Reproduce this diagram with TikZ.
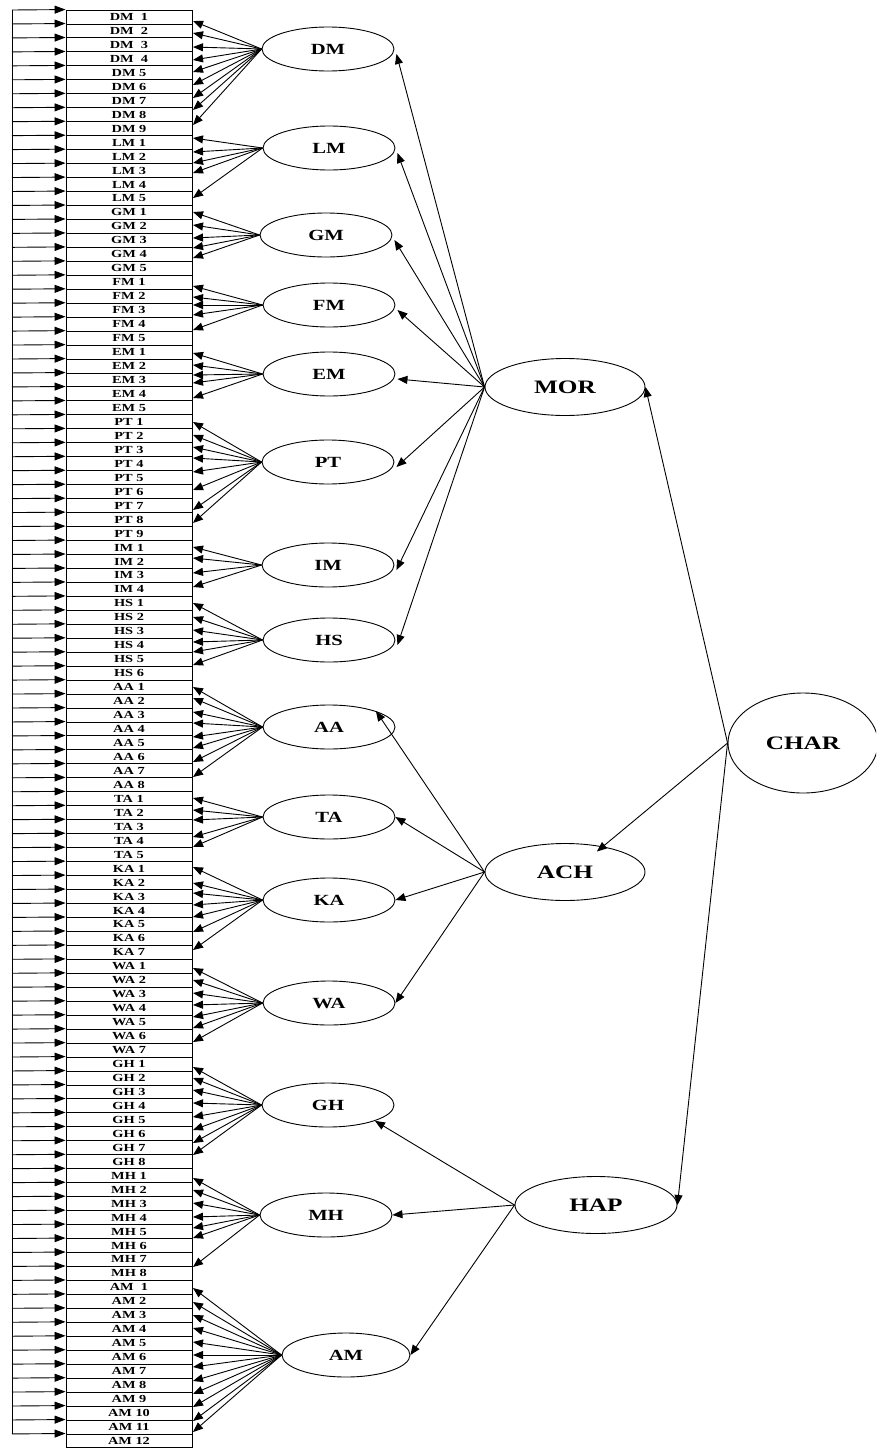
\documentclass[tikz,border=0pt]{standalone}
\usepackage{fontspec}
\setmainfont{Liberation Serif}
\newfontfamily\wideserif[FakeStretch=1.33]{Liberation Serif}
\usetikzlibrary{arrows.meta,shapes.geometric,calc}
\tikzset{
  rowbox/.style={draw, line width=0.9pt, minimum width=126pt, minimum height=13.96pt, inner sep=0pt, font=\wideserif\bfseries\fontsize{10.8}{10}\selectfont},
  latsub/.style={draw, ellipse, line width=0.9pt, minimum width=132pt, minimum height=44pt, inner sep=0pt, font=\wideserif\bfseries\fontsize{15.5}{16}\selectfont},
  latmain/.style={draw, ellipse, line width=0.9pt, minimum width=160pt, minimum height=57pt, inner sep=0pt, font=\wideserif\bfseries\fontsize{19}{20}\selectfont},
  arr/.style={line width=0.9pt, -{Triangle[length=10pt,width=8pt]}},
  arrL/.style={line width=0.9pt, -{Triangle[length=11pt,width=8pt]}},
}
\begin{document}
\begin{tikzpicture}[x=1pt,y=-1pt]
\useasboundingbox (0,0) rectangle (876,1448);
\clip (0,0) rectangle (876,1448);
\fill[white] (0,0) rectangle (876,1448);
% indicator rows
\foreach \lab [count=\i from 0] in {DM~~1,DM~~2,DM~~3,DM~~4,DM 5,DM 6,DM 7,DM 8,DM 9,
  LM 1,LM 2,LM 3,LM 4,LM 5,
  GM 1,GM 2,GM 3,GM 4,GM 5,
  FM 1,FM 2,FM 3,FM 4,FM 5,
  EM 1,EM 2,EM 3,EM 4,EM 5,
  PT 1,PT 2,PT 3,PT 4,PT 5,PT 6,PT 7,PT 8,PT 9,
  IM 1,IM 2,IM 3,IM 4,
  HS 1,HS 2,HS 3,HS 4,HS 5,HS 6,
  AA 1,AA 2,AA 3,AA 4,AA 5,AA 6,AA 7,AA 8,
  TA 1,TA 2,TA 3,TA 4,TA 5,
  KA 1,KA 2,KA 3,KA 4,KA 5,KA 6,KA 7,
  WA 1,WA 2,WA 3,WA 4,WA 5,WA 6,WA 7,
  GH 1,GH 2,GH 3,GH 4,GH 5,GH 6,GH 7,GH 8,
  MH 1,MH 2,MH 3,MH 4,MH 5,MH 6,MH 7,MH 8,
  AM~~1,AM 2,AM 3,AM 4,AM 5,AM 6,AM 7,AM 8,AM 9,AM 10,AM 11,AM 12} {
  \node[rowbox] (r\i) at (129,{17+13.96*\i}) {\lab};
  \coordinate (e\i) at (12,{10+13.96*\i});
  \draw[arrL] (e\i) -- (r\i.north west);
}
\draw[line width=0.9pt] (e0) -- (e102);
% first-order latents
\node[latsub] (DM) at (328,49) {DM};
\node[latsub] (LM) at (329,148) {LM};
\node[latsub] (GM) at (326,235) {GM};
\node[latsub] (FM) at (329,305) {FM};
\node[latsub] (EM) at (329,374) {EM};
\node[latsub] (PT) at (328,462) {PT};
\node[latsub] (IM) at (328,565) {IM};
\node[latsub] (HS) at (329,640) {HS};
\node[latsub] (AA) at (329,727) {AA};
\node[latsub] (TA) at (329,817) {TA};
\node[latsub] (KA) at (329,900) {KA};
\node[latsub] (WA) at (329,1003) {WA};
\node[latsub] (GH) at (328,1105) {GH};
\node[latsub] (MH) at (326,1215) {MH};
\node[latsub, minimum width=128pt] (AM) at (346,1355) {AM};
% second-order latents
\node[latmain] (MOR) at (565,387) {MOR};
\node[latmain] (ACH) at (565,872) {ACH};
\node[latmain, minimum width=162pt] (HAP) at (596,1205) {HAP};
\node[latmain, minimum width=150pt, minimum height=100pt] (CHAR) at (803,743) {CHAR};
% loadings to indicators
\foreach \g/\ys in {DM/{21,33,47,60,72,85,98,110,125},
  LM/{138,152,163,173,198},
  GM/{212,225,238,248,258},
  FM/{286,297,305,315,330},
  EM/{353,365,375,383,398},
  PT/{422,435,447,458,472,490,510,523},
  IM/{547,558,573,587},
  HS/{603,617,630,642,652,665},
  AA/{687,698,712,723,737,748,762,777},
  TA/{798,810,820,837,847},
  KA/{867,883,893,905,917,932,950},
  WA/{968,980,993,1005,1017,1028,1042},
  GH/{1067,1078,1090,1103,1117,1130,1143,1155},
  MH/{1178,1190,1203,1217,1228,1238,1267},
  AM/{1288,1302,1315,1328,1342,1355,1367,1381,1394,1407,1421,1432}} {
  \foreach \t [count=\k] in \ys {
    \coordinate (\g-t\k) at (193,\t);
    \draw[arr] (\g.west) -- (\g-t\k);
  }
}
% second-order loadings
\foreach \s in {DM,LM,GM,FM,EM,PT,IM,HS}
  \draw[arr] (MOR.west) -- ($(\s.east)+(2,5)$);
\draw[arr] (ACH.west) -- (AA.north east);
\foreach \s in {TA,KA,WA}
  \draw[arr] (ACH.west) -- (\s.east);
\draw[arr] (HAP.west) -- (GH.south east);
\draw[arr] (HAP.west) -- (MH.east);
\draw[arr] (HAP.west) -- (AM.east);
% third-order loadings
\draw[arr] (CHAR.west) -- (MOR.east);
\draw[arr] (CHAR.west) -- ($(ACH.north east)+(-25,0)$);
\draw[arr] (CHAR.west) -- (HAP.east);
\end{tikzpicture}
\end{document}
